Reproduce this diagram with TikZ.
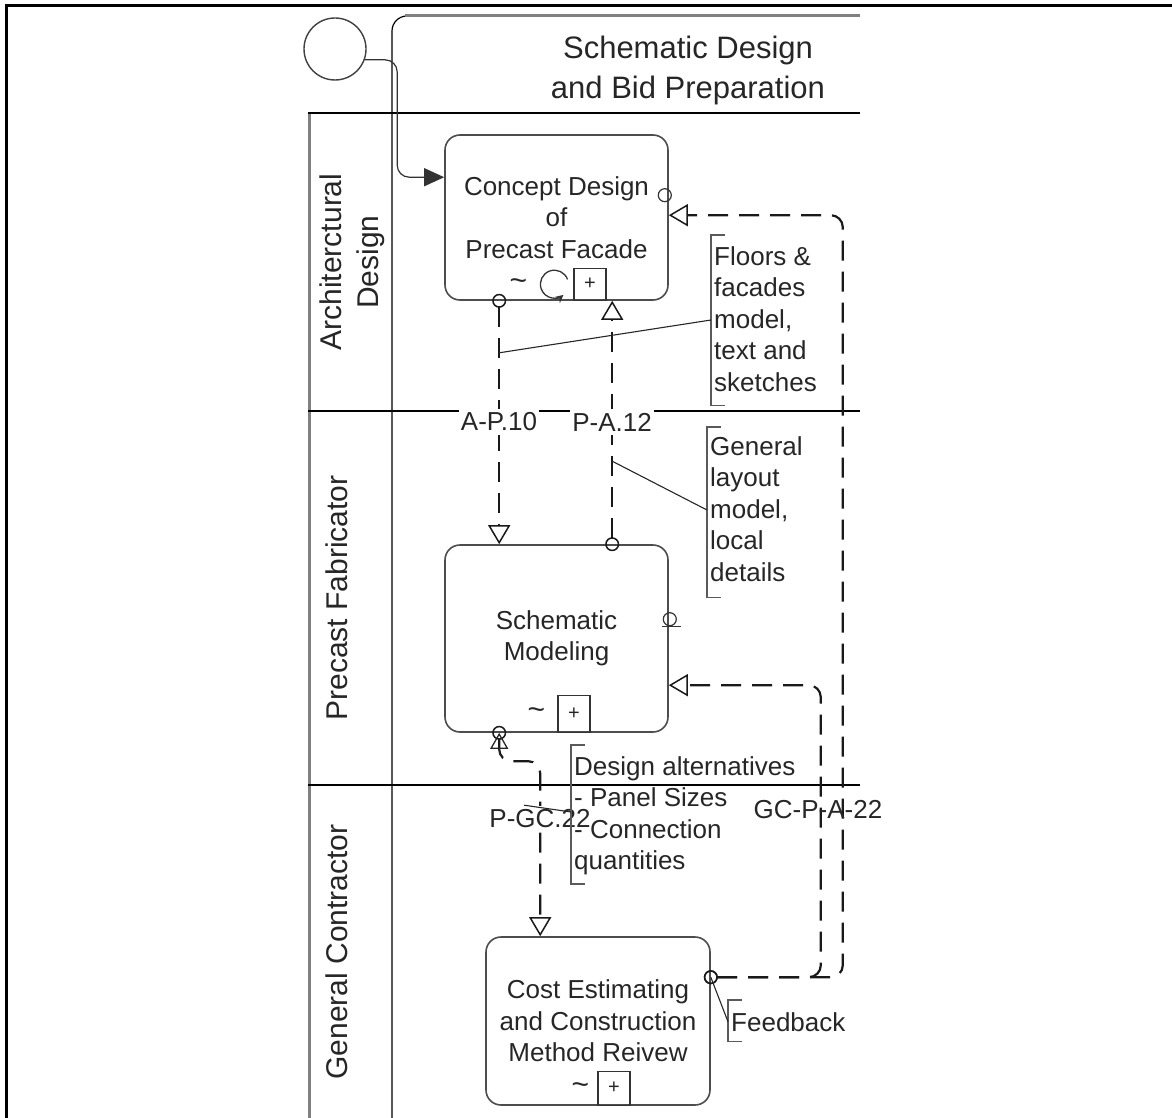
\documentclass[tikz,border=0pt]{standalone}
\usepackage{fontspec}
\setmainfont{Liberation Sans}
\usepackage{tikz}
\usetikzlibrary{arrows.meta,positioning,calc}
\definecolor{laneline}{HTML}{808080}
\definecolor{taskline}{HTML}{4D4D4D}
\definecolor{inktext}{HTML}{262626}

\begin{document}
\begin{tikzpicture}[x=1pt,y=-1pt,font=\fontsize{26}{31.5}\selectfont,text=inktext,
  task/.style={draw=taskline,line width=1.6pt,rounded corners=15pt,align=center,inner sep=0pt},
  plusbox/.style={draw=black!80,line width=1.2pt,minimum width=32pt,inner sep=0pt,anchor=south,font=\fontsize{20}{20}\selectfont},
  marker/.style={inner sep=0pt,font=\fontsize{30}{30}\selectfont},
  poolline/.style={draw=black,line width=1.2pt},
  msgflow/.style={draw=black!90,line width=2.2pt,dash pattern=on 20pt off 11pt,rounded corners=12pt,
    {Circle[open,length=14pt,line width=1.5pt,sep=-7pt]}-{Triangle[open,length=19pt,width=22pt,line width=1.5pt]}},
  seqflow/.style={draw=black!80,line width=1.2pt,rounded corners=12pt,-{Triangle[length=20pt,width=18pt]}},
  assoc/.style={draw=black!85,line width=1.1pt},
  bracket/.style={draw=laneline!70!black,line width=1.6pt},
  note/.style={anchor=north west,align=left,inner xsep=3pt,inner ysep=3pt},
  flowlabel/.style={fill=white,inner xsep=2pt,inner ysep=4pt}]
  \useasboundingbox (0,0) rectangle (1172,1118);
  % frame and pool
  \draw[line width=3pt] (6,1118) -- (6,6) -- (1172,6);
  \draw[poolline,rounded corners=15pt] (392,1118) -- (392,16) -- (430,16);
  \draw[draw=laneline,line width=3pt] (405,16) -- (860,16);
  \draw[draw=laneline,line width=3pt] (309,113) -- (309,1118);
  \foreach \y in {113,411,785}{
    \draw[poolline] (308,\y) -- (860,\y);
  }
  \node[font=\fontsize{31}{40}\selectfont,align=center] (phase) at (688,70) {Schematic Design\\and Bid Preparation};
  \node[rotate=90,align=center,font=\fontsize{30}{37}\selectfont] (archLane) at (352,262) {Architerctural\\Design};
  \node[rotate=90,font=\fontsize{30}{37}\selectfont] (precastLane) at (337,598) {Precast Fabricator};
  \node[rotate=90,font=\fontsize{30}{37}\selectfont] (gcLane) at (337,952) {General Contractor};
  % tasks
  \node[circle,draw=black!75,line width=1.4pt,minimum size=62pt] (start) at (335,49) {};
  \node[task,minimum width=223pt,minimum height=165pt] (concept) at (556.5,217.5) {Concept Design\\of\\Precast Facade};
  \node[task,minimum width=223pt,minimum height=187pt] (schem) at (556.5,638.5) {Schematic\\Modeling};
  \node[task,minimum width=224pt,minimum height=168pt] (cost) at (598,1021) {Cost Estimating\\and Construction\\Method Reivew};
  \node[plusbox,minimum height=32pt] (conceptPlus) at ($(concept.south)+(33.5,0)$) {+};
  \node[plusbox,minimum height=37pt] (schemPlus) at ($(schem.south)+(17.5,0)$) {+};
  \node[plusbox,minimum height=34pt] (costPlus) at ($(cost.south)+(16,0)$) {+};
  \node[marker] (conceptTilde) at ($(conceptPlus.west)+(-55,0)$) {\textasciitilde};
  \node[marker] (schemTilde) at ($(schemPlus.west)+(-21,0)$) {\textasciitilde};
  \node[marker] (costTilde) at ($(costPlus.west)+(-17,0)$) {\textasciitilde};
  \coordinate (loopc) at ($(conceptPlus.west)+(-19,0)$);
  \draw[black!80,line width=1.3pt,-{Stealth[length=8pt,width=8pt]}] ($(loopc)+(20:14pt)$) arc[start angle=20,end angle=310,radius=14pt];
  % ports
  \draw[black!80,line width=1.2pt] ($(concept.north east)+(-4,61)$) circle (6.5pt);
  \draw[black!80,line width=1.2pt] ($(schem.north east)+(1,75)$) circle (6.5pt);
  \draw[black!80,line width=1.2pt] ($(schem.north east)+(-7,82)$) -- ++(19,0);
  % flows
  \coordinate (conceptIn) at ($(concept.north west)+(0,43)$);
  \coordinate (apOut) at ($(concept.south west)+(55,0)$);
  \coordinate (apIn) at ($(schem.north west)+(55,0)$);
  \coordinate (paOut) at ($(schem.north west)+(168,0)$);
  \coordinate (paIn) at ($(concept.south west)+(168,0)$);
  \coordinate (pgcOut) at ($(schem.south west)+(55,0)$);
  \coordinate (pgcIn) at ($(cost.north west)+(55,0)$);
  \coordinate (gcOut) at ($(cost.north east)+(0,41)$);
  \coordinate (gcInA) at ($(concept.north east)+(0,81)$);
  \coordinate (gcInP) at ($(schem.north east)+(0,141)$);
  \draw[seqflow] (start.-20) -| ($(conceptIn)+(-47,0)$) -- (conceptIn);
  \draw[msgflow] (apOut) -- (apIn);
  \draw[msgflow] (paOut) -- (paIn);
  \draw[msgflow] (pgcOut) |- ($(pgcIn)+(0,-175)$) -- (pgcIn);
  \draw[black!85,line width=1.3pt,-{Triangle[open,length=16pt,width=18pt]}] ($(pgcOut)+(0,20)$) -- (pgcOut);
  \draw[msgflow] (gcOut) -| ($(gcInP)+(152,0)$) -- (gcInP);
  \draw[msgflow] (gcOut) -| ($(gcInA)+(174,0)$) -- (gcInA);
  \node[flowlabel] (apLabel) at (499,422) {A-P.10};
  \node[flowlabel] (paLabel) at (612,422) {P-A.12};
  \node[flowlabel] (pgcLabel) at (540,819) {P-GC.22};
  \node[inner sep=1pt] (gcLabel) at (818,810) {GC-P-A-22};
  % annotations
  \node[note] (floorsNote) at (711,243) {Floors \&\\facades\\model,\\text and\\sketches};
  \node[note] (layoutNote) at (707,433) {General\\layout\\model,\\local\\details};
  \node[note] (altNote) at (571,753) {Design alternatives\\- Panel Sizes\\- Connection\\quantities};
  \node[note] (feedNote) at (728,1009) {Feedback};
  \draw[bracket] ([xshift=14pt,yshift=8pt]floorsNote.north west) -- ([yshift=8pt]floorsNote.north west) -- ([yshift=-11pt]floorsNote.south west) -- ++(14,0);
  \draw[bracket] ([xshift=14pt,yshift=6pt]layoutNote.north west) -- ([yshift=6pt]layoutNote.north west) -- ([yshift=-13pt]layoutNote.south west) -- ++(14,0);
  \draw[bracket] ([xshift=14pt,yshift=8pt]altNote.north west) -- ([yshift=8pt]altNote.north west) -- ([yshift=-6pt]altNote.south west) -- ++(14,0);
  \draw[bracket] ([xshift=14pt,yshift=9pt]feedNote.north west) -- ([yshift=9pt]feedNote.north west) -- ([yshift=-7pt]feedNote.south west) -- ++(14,0);
  \draw[assoc] ($(apOut)+(0,52)$) -- ($(floorsNote.north west)+(0,77)$);
  \draw[assoc] ($(paOut)+(0,-83)$) -- ($(layoutNote.north west)+(0,77)$);
  \draw[assoc] ($(pgcIn)+(-16,-131)$) -- ($(altNote.north west)+(0,59)$);
  \draw[assoc] (gcOut) -- (feedNote.west);
\end{tikzpicture}
\end{document}
